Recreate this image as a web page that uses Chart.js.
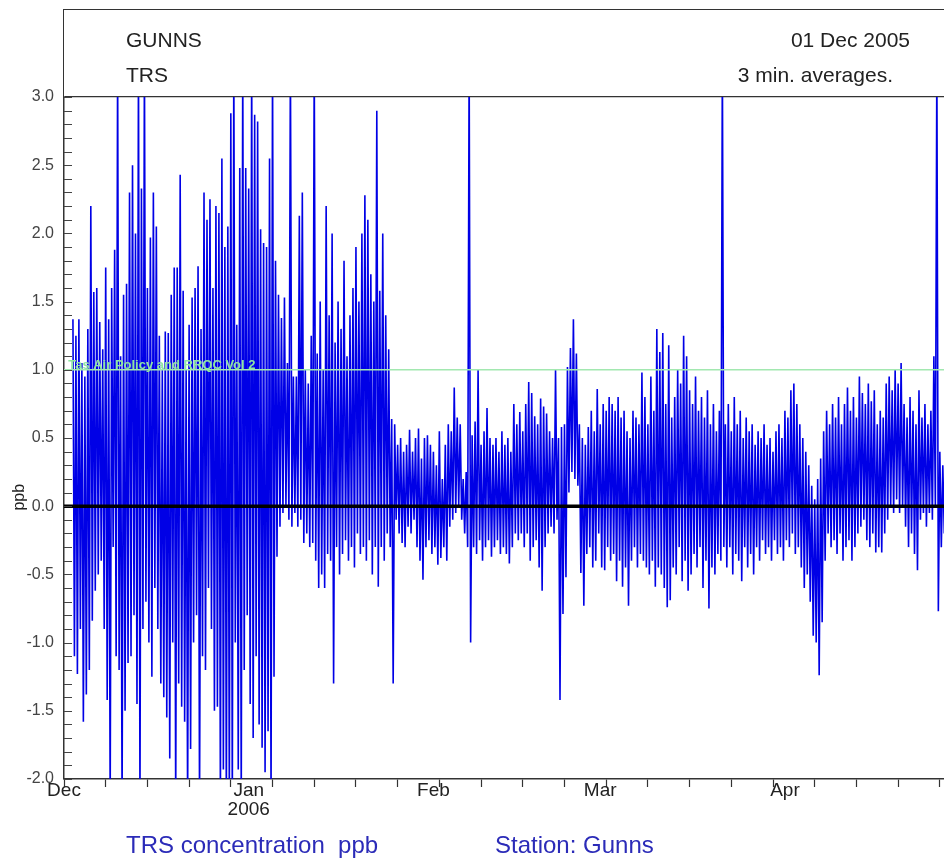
<!DOCTYPE html>
<html><head><meta charset="utf-8">
<script src="https://cdn.jsdelivr.net/npm/chart.js@4.4.1/dist/chart.umd.min.js"></script>
<style>
html,body{margin:0;padding:0;background:#fff;overflow:hidden;}
#wrap{position:relative;width:944px;height:858px;overflow:hidden;}
canvas{position:absolute;left:0;top:0;}
.t{position:absolute;font-family:'Liberation Sans',Arial,sans-serif;font-size:21px;line-height:21px;color:#222;white-space:nowrap;}
.f{color:#2b2bb8;font-size:24px;line-height:24px;}
#box{position:absolute;left:63px;top:9px;width:900px;height:87px;border-top:1.5px solid #333;border-left:1.5px solid #333;}
</style></head><body>
<div id="wrap">
<canvas id="c" width="944" height="858"></canvas>
<div id="box"></div>
<div class="t" style="left:126px;top:29px">GUNNS</div>
<div class="t" style="left:126px;top:64px">TRS</div>
<div class="t" style="right:34px;top:29px">01 Dec 2005</div>
<div class="t" style="right:51px;top:64px">3 min. averages.</div>
<div class="t f" style="left:126px;top:833px">TRS concentration&nbsp;&nbsp;ppb</div>
<div class="t f" style="left:495px;top:833px">Station: Gunns</div>
</div>
<script>
// ---- data (days since 01 Dec 2005) ----
const firstDay = 1.5;      // first half-day sample
const sampleStep = 0.5;    // days per high/low pair
const halfStep = 0.25;

// half-day maxima of the 3 min. TRS averages (ppb)
const highs = [
 1.37,1.25,1.37,1.05,0.95,1.3,2.2,1.57,1.6,1.35,
 1.15,1.75,1.37,1.6,1.88,3.3,1.1,1.55,1.63,2.3,
 2.5,2.0,3.3,2.33,3.3,1.6,1.97,2.3,2.05,1.25,
 1.0,1.28,1.27,1.55,1.75,1.75,2.43,1.58,1.0,1.33,
 1.53,1.6,1.76,1.3,2.3,2.1,2.25,1.6,2.2,2.15,
 2.55,1.9,2.05,2.88,3.3,1.33,2.48,3.3,2.48,2.33,
 3.3,2.87,2.82,2.03,1.93,1.9,2.55,3.3,1.8,1.55,
 1.38,1.53,1.05,3.3,0.95,0.95,2.13,2.3,1.0,0.9,
 1.25,3.3,1.12,1.5,1.0,2.2,1.4,2.0,1.2,1.5,
 1.3,1.8,1.1,1.4,1.6,1.9,1.5,2.0,2.28,2.1,
 1.7,1.5,2.9,1.58,2.0,1.4,1.15,0.64,0.6,0.45,
 0.5,0.4,0.45,0.56,0.4,0.5,0.57,0.35,0.5,0.52,
 0.45,0.4,0.3,0.55,0.2,0.45,0.6,0.55,0.87,0.65,
 0.6,0.2,0.25,3.3,0.52,0.62,1.0,0.45,0.55,0.72,
 0.5,0.45,0.5,0.4,0.55,0.45,0.5,0.4,0.75,0.6,
 0.69,0.55,0.75,0.91,0.83,0.66,0.6,0.79,0.73,0.68,
 0.55,0.5,1.0,0.5,0.58,0.6,1.02,1.16,1.37,1.12,
 0.6,0.5,0.45,0.58,0.7,0.55,0.86,0.6,0.75,0.7,
 0.8,0.75,0.7,0.8,0.65,0.7,0.55,0.5,0.7,0.65,
 0.6,0.98,0.8,0.6,0.95,0.7,1.3,1.13,1.27,0.75,
 1.18,0.65,0.8,1.0,0.9,1.25,1.1,0.85,0.75,0.95,
 0.7,0.8,0.65,0.85,0.6,0.75,0.55,0.7,3.3,0.6,
 0.75,0.55,0.8,0.6,0.7,0.5,0.65,0.55,0.6,0.45,
 0.55,0.5,0.6,0.45,0.5,0.4,0.55,0.6,0.5,0.7,
 0.65,0.85,0.9,0.75,0.6,0.5,0.4,0.3,0.15,0.05,
 0.2,0.35,0.55,0.7,0.6,0.75,0.65,0.8,0.6,0.75,
 0.87,0.7,0.8,0.65,0.95,0.83,0.75,0.9,0.77,0.85,
 0.6,0.7,0.65,0.9,0.95,0.85,1.0,0.9,1.05,0.75,
 0.65,0.8,0.7,0.6,0.85,0.65,0.75,0.6,0.7,1.1,
 3.3,0.4,0.3
];
// half-day minima (ppb)
const lows = [
 -1.1,-1.23,-0.9,-1.58,-1.38,-1.2,-0.84,-0.62,-0.5,-0.4,
 -0.9,-1.42,-2.2,-0.3,-1.1,-1.2,-2.2,-1.5,-1.15,-1.1,
 -0.8,-1.45,-2.2,-0.9,-0.7,-1.0,-1.25,-0.6,-0.9,-1.3,
 -1.4,-1.55,-1.85,-1.0,-2.2,-1.3,-1.47,-1.58,-2.2,-1.78,
 -1.0,-0.8,-2.2,-1.1,-1.2,-0.6,-0.9,-1.5,-1.47,-2.2,
 -1.93,-2.2,-2.2,-2.2,-1.0,-1.93,-2.2,-1.2,-0.8,-1.45,
 -1.7,-1.1,-1.6,-1.77,-1.95,-1.65,-2.2,-1.25,-0.37,-0.15,
 -0.05,0.0,-0.1,-0.15,-0.05,-0.15,-0.1,-0.27,-0.2,-0.3,
 -0.27,-0.4,-0.6,-0.5,-0.6,-0.35,-0.4,-1.3,-0.3,-0.5,
 -0.35,-0.25,-0.4,-0.3,-0.45,-0.2,-0.35,-0.3,-0.4,-0.25,
 -0.5,-0.3,-0.59,-0.3,-0.4,-0.2,-0.3,-1.3,-0.1,-0.2,
 -0.27,-0.3,-0.15,-0.2,-0.1,-0.3,-0.4,-0.54,-0.3,-0.25,
 -0.35,-0.3,-0.43,-0.38,-0.3,-0.4,-0.15,-0.1,-0.05,0.0,
 -0.1,-0.2,-0.3,-1.0,-0.3,-0.35,-0.25,-0.4,-0.3,-0.25,
 -0.37,-0.3,-0.25,-0.35,-0.3,-0.35,-0.42,-0.3,-0.2,-0.25,
 -0.2,-0.3,-0.2,-0.4,-0.3,-0.25,-0.45,-0.62,-0.3,-0.2,
 -0.15,-0.2,-0.1,-1.42,-0.79,-0.52,0.1,0.25,0.2,0.15,
 -0.49,-0.73,-0.35,-0.3,-0.45,-0.4,-0.2,-0.45,-0.47,-0.3,
 -0.4,-0.35,-0.55,-0.4,-0.59,-0.45,-0.73,-0.4,-0.3,-0.45,
 -0.35,-0.4,-0.45,-0.5,-0.4,-0.59,-0.45,-0.5,-0.6,-0.74,
 -0.69,-0.45,-0.5,-0.3,-0.55,-0.4,-0.62,-0.5,-0.35,-0.45,
 -0.3,-0.6,-0.4,-0.75,-0.45,-0.5,-0.35,-0.4,-0.3,-0.45,
 -0.3,-0.5,-0.35,-0.4,-0.55,-0.3,-0.45,-0.35,-0.5,-0.3,
 -0.4,-0.25,-0.35,-0.3,-0.4,-0.25,-0.35,-0.3,-0.4,-0.25,
 -0.3,-0.2,-0.35,-0.3,-0.45,-0.6,-0.5,-0.7,-0.95,-1.0,
 -1.24,-0.85,-0.4,-0.2,-0.3,-0.25,-0.35,-0.2,-0.4,-0.3,
 -0.25,-0.4,-0.3,-0.2,-0.15,-0.1,-0.25,-0.3,-0.2,-0.34,
 -0.3,-0.34,-0.2,-0.1,0.0,-0.05,0.05,-0.05,0.0,-0.15,
 -0.3,-0.2,-0.35,-0.47,-0.1,-0.05,-0.15,-0.05,-0.1,0.0,
 -0.77,-0.3,-0.2
];

const guideValue = 1.0;
const guideLabel = 'Tas Air Policy and RRQC Vol 2';
const baselineValue = 0.0;

const weekTickDays = [0,7,14,21,28,35,42,49,56,63,70,77,84,91,98,105,112,119,126,133,140,147];
const monthDays = [0,31,62,90,121];
const monthNames = ['Dec',['Jan','2006'],'Feb','Mar','Apr'];

const xMinDay = 0, xMaxDay = 147.7;
const yMin = -2.0, yMax = 3.0;

// ---- build series ----
const trsPoints = [];
for (let k = 0; k < highs.length; k++) {
  const d = firstDay + k * sampleStep;
  trsPoints.push({x: d, y: highs[k]});
  trsPoints.push({x: d + halfStep, y: lows[k]});
}
const allTicks = Array.from(new Set(weekTickDays.concat(monthDays))).sort((a,b)=>a-b);

const FONT = "'Liberation Sans', Arial, sans-serif";

const overlay = {
  id: 'overlay',
  afterDatasetsDraw(chart) {
    const {ctx, chartArea: a, scales: {x, y}} = chart;
    ctx.save();
    ctx.strokeStyle = '#444';
    ctx.lineWidth = 1;
    y.ticks.forEach(t => {
      const py = Math.round(y.getPixelForValue(t.value)) + 0.5;
      ctx.beginPath(); ctx.moveTo(a.left, py); ctx.lineTo(a.left + 8, py); ctx.stroke();
    });
    ctx.fillStyle = '#8fe6a2';
    ctx.font = 'bold 13px ' + FONT;
    ctx.textBaseline = 'alphabetic';
    ctx.textAlign = 'left';
    ctx.fillText(guideLabel, x.getPixelForValue(0.7), y.getPixelForValue(guideValue) - 1);
    ctx.translate(20, y.getPixelForValue(baselineValue) - 9);
    ctx.rotate(-Math.PI / 2);
    ctx.fillStyle = '#222';
    ctx.font = '16px ' + FONT;
    ctx.textAlign = 'center';
    ctx.textBaseline = 'middle';
    ctx.fillText('ppb', 0, 0);
    ctx.restore();
  }
};

new Chart(document.getElementById('c'), {
  type: 'line',
  data: {
    datasets: [
      {data: [{x: xMinDay, y: baselineValue}, {x: xMaxDay, y: baselineValue}], borderColor: '#000', borderWidth: 3.5, pointRadius: 0},
      {data: [{x: xMinDay, y: guideValue}, {x: xMaxDay, y: guideValue}], borderColor: '#a2e8b0', borderWidth: 1.5, pointRadius: 0},
      {data: trsPoints, borderColor: '#0000e6', borderWidth: 1.6, pointRadius: 0, tension: 0}
    ]
  },
  options: {
    responsive: false,
    animation: false,
    devicePixelRatio: 1,
    parsing: false,
    layout: {padding: {top: 97, left: 0, right: 0, bottom: 0}},
    plugins: {legend: {display: false}, tooltip: {enabled: false}},
    scales: {
      x: {
        type: 'linear', min: xMinDay, max: xMaxDay,
        afterFit(s) { s.height = 79; },
        afterBuildTicks(s) { s.ticks = allTicks.map(v => ({value: v})); },
        border: {display: true, color: '#333', width: 1.5},
        grid: {
          drawOnChartArea: false, drawTicks: true, tickLength: 8, tickWidth: 1.2,
          tickColor: c => (c.tick && weekTickDays.includes(c.tick.value)) ? '#333' : 'rgba(0,0,0,0)'
        },
        ticks: {
          autoSkip: false, maxRotation: 0, padding: -6, color: '#222',
          font: {family: FONT, size: 19, lineHeight: 1.0},
          callback: v => { const i = monthDays.indexOf(v); return i >= 0 ? monthNames[i] : ''; }
        }
      },
      y: {
        type: 'linear', min: yMin, max: yMax,
        afterFit(s) { s.width = 64; },
        border: {display: true, color: '#333', width: 1.5},
        grid: {
          drawTicks: false,
          color: c => { const v = c.tick ? c.tick.value : null; return (v !== null && Math.abs(v - yMax) < 1e-6) ? '#333' : 'rgba(0,0,0,0)'; },
          lineWidth: 1.2
        },
        ticks: {
          stepSize: 0.1, autoSkip: false, padding: 10, color: '#444',
          font: {family: FONT, size: 16},
          callback: v => (Math.abs(v * 2 - Math.round(v * 2)) < 1e-6 ? Number(v).toFixed(1) : '')
        }
      }
    }
  },
  plugins: [overlay]
});
</script>
</body></html>
